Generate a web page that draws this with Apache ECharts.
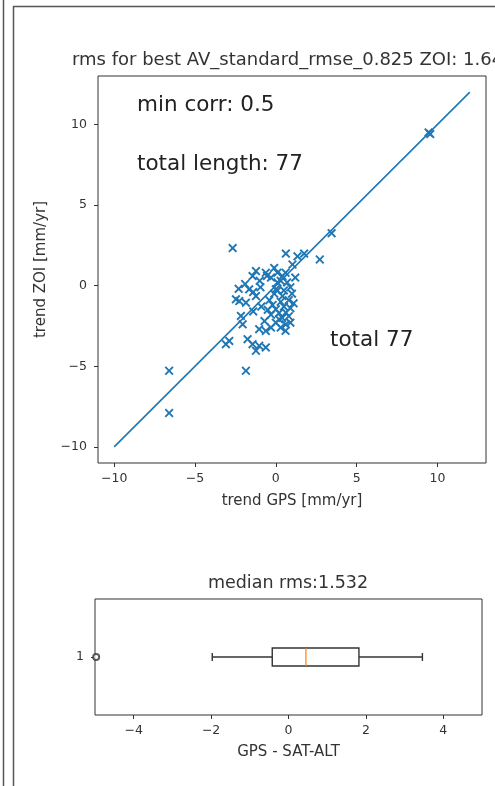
<!DOCTYPE html>
<html>
<head>
<meta charset="utf-8">
<script src="https://cdn.jsdelivr.net/npm/echarts@6/dist/echarts.min.js"></script>
<style>
  html, body { margin: 0; padding: 0; background: #fff; }
  #chart { width: 495px; height: 786px; }
</style>
</head>
<body>
<div id="chart"></div>
<script>
// scatter: trend GPS vs trend ZOI (mm/yr)
const trendPairs = [
  [9.45, 9.5], [9.55, 9.4], [3.45, 3.25], [2.72, 1.62], [-2.67, 2.33],
  [0.62, 1.99], [1.75, 1.99], [1.34, 1.82], [-0.1, 1.1], [-1.23, 0.9],
  [1.03, 1.31], [-0.62, 0.8], [0.1, 0.8], [-1.44, 0.59], [0.41, 0.59],
  [-0.55, 0.6], [-0.95, -0.1], [-1.65, -0.23], [0, -0.23], [-2.47, -0.85],
  [-1.23, -0.65], [0.41, -0.65], [-1.85, -1.06], [-2.26, -0.96], [0, -1.47],
  [0.62, -1.67], [0.2, -2.09], [0.62, -2.4], [-2.16, -1.88], [-2.05, -2.4],
  [-1.03, -2.7], [-0.62, -2.81], [-2.88, -3.43], [-3.09, -3.63], [-1.75, -3.32],
  [-1.44, -3.63], [-1.03, -3.73], [-0.62, -3.83], [-1.23, -4.04], [-1.85, -5.28],
  [-6.6, -5.28], [-6.6, -7.9], [0.3, 0.3], [0.7, 0.2], [0.9, -0.1],
  [0.5, -0.3], [-0.3, 0.5], [-0.1, -0.5], [0.8, -0.9], [0.3, -1.0],
  [-0.4, -0.9], [-0.2, -1.2], [0.5, -1.3], [0.9, -1.4], [0.2, -1.7],
  [-0.3, -1.8], [0.8, -1.9], [0.4, -2.0], [0.0, -2.3], [0.9, -2.3],
  [0.3, -2.6], [-0.5, -1.5], [-0.9, -1.3], [-1.4, -0.4], [-1.0, 0.3],
  [0.6, 0.8], [1.2, 0.5], [1.0, -0.5], [0.1, -0.3], [0.1, 0.2],
  [-1.9, 0.1], [-0.7, -2.2], [1.1, -1.1], [-0.3, -2.6], [-2.3, -0.2],
  [0.6, -2.8], [-1.4, -1.6]
];
const oneToOne = [[-10, -10], [12, 12]];
const trendTicks = [-10, -5, 0, 5, 10];

// box plot: GPS - SAT-ALT
const boxCategories = ['1'];
const boxStats = [-1.97, -0.42, 0.45, 1.82, 3.46]; // low, q1, median, q3, high
const boxFliers = [-4.97];
const boxTicks = [-4, -2, 0, 2, 4];

const titleTop = 'rms for best AV_standard_rmse_0.825 ZOI: 1.64';
const titleBox = 'median rms:1.532';

const FONT = 'DejaVu Sans';
const INK = '#333';
const BLUE = '#1f77b4';
const minus = v => String(v).replace('-', '\u2212');
const xMark = 'path://M1.5,0 L5,3.5 L8.5,0 L10,1.5 L6.5,5 L10,8.5 L8.5,10 L5,6.5 L1.5,10 L0,8.5 L3.5,5 L0,1.5 Z';

function valueAxis(gridIndex, min, max, ticks, name, nameGap, labelMargin) {
  return {
    type: 'value', gridIndex, min, max,
    splitLine: { show: false },
    axisLine: { show: false, onZero: false },
    axisTick: { show: true, length: 4, lineStyle: { color: INK }, customValues: ticks },
    axisLabel: { color: INK, fontFamily: FONT, fontSize: 12.5, margin: labelMargin, formatter: minus, customValues: ticks },
    name, nameLocation: 'middle', nameGap,
    nameTextStyle: { color: INK, fontFamily: FONT, fontSize: 15 }
  };
}

const chart = echarts.init(document.getElementById('chart'), null, { renderer: 'canvas' });

chart.setOption({
  backgroundColor: '#fff',
  animation: false,
  grid: [
    { left: 98, top: 76, width: 388, height: 387, show: true, borderColor: INK, borderWidth: 1, backgroundColor: 'transparent' },
    { left: 95, top: 599, width: 387, height: 116, show: true, borderColor: INK, borderWidth: 1, backgroundColor: 'transparent' }
  ],
  xAxis: [
    valueAxis(0, -11, 13, trendTicks, 'trend GPS [mm/yr]', 31, 9),
    valueAxis(1, -5, 5, boxTicks, 'GPS - SAT-ALT', 30, 9)
  ],
  yAxis: [
    valueAxis(0, -11, 13, trendTicks, 'trend ZOI [mm/yr]', 49, 11),
    {
      type: 'category', gridIndex: 1, data: boxCategories,
      axisLine: { show: false, onZero: false },
      axisTick: { show: true, alignWithLabel: true, length: 4, lineStyle: { color: INK } },
      axisLabel: { color: INK, fontFamily: FONT, fontSize: 12.5, margin: 11 },
      splitLine: { show: false }
    }
  ],
  series: [
    {
      type: 'line', xAxisIndex: 0, yAxisIndex: 0, data: oneToOne,
      symbol: 'none', lineStyle: { color: BLUE, width: 1.6 }, z: 2
    },
    {
      type: 'scatter', xAxisIndex: 0, yAxisIndex: 0, data: trendPairs,
      symbol: xMark, symbolSize: 9, itemStyle: { color: BLUE, opacity: 1 }, z: 3
    },
    {
      type: 'custom', xAxisIndex: 1, yAxisIndex: 1,
      data: [boxStats.concat([0])],
      encode: { x: [0, 1, 2, 3, 4], y: 5 },
      renderItem: function (params, api) {
        const cat = api.value(5);
        const p = [0, 1, 2, 3, 4].map(i => api.coord([api.value(i), cat]));
        const y = p[0][1];
        const hb = 9, hc = 4;
        const ls = { stroke: INK, lineWidth: 1.4 };
        return {
          type: 'group',
          children: [
            { type: 'line', shape: { x1: p[0][0], y1: y, x2: p[1][0], y2: y }, style: ls },
            { type: 'line', shape: { x1: p[3][0], y1: y, x2: p[4][0], y2: y }, style: ls },
            { type: 'line', shape: { x1: p[0][0], y1: y - hc, x2: p[0][0], y2: y + hc }, style: ls },
            { type: 'line', shape: { x1: p[4][0], y1: y - hc, x2: p[4][0], y2: y + hc }, style: ls },
            { type: 'rect', shape: { x: p[1][0], y: y - hb, width: p[3][0] - p[1][0], height: hb * 2 },
              style: { fill: 'none', stroke: INK, lineWidth: 1.4 } },
            { type: 'line', shape: { x1: p[2][0], y1: y - hb, x2: p[2][0], y2: y + hb },
              style: { stroke: '#ff7f0e', lineWidth: 1.2 } }
          ]
        };
      }
    },
    {
      type: 'scatter', xAxisIndex: 1, yAxisIndex: 1,
      data: boxFliers.map(v => [v, 0]),
      symbol: 'emptyCircle', symbolSize: 6,
      itemStyle: { color: INK, borderColor: INK, borderWidth: 1 }
    }
  ],
  graphic: [
    { type: 'line', shape: { x1: 3.5, y1: 0, x2: 3.5, y2: 786 }, style: { stroke: '#555', lineWidth: 1.5 } },
    { type: 'line', shape: { x1: 13.5, y1: 6, x2: 13.5, y2: 786 }, style: { stroke: '#555', lineWidth: 1.5 } },
    { type: 'line', shape: { x1: 13, y1: 6.5, x2: 495, y2: 6.5 }, style: { stroke: '#555', lineWidth: 1.5 } },
    { type: 'text', x: 72, y: 60, style: { text: titleTop, fontFamily: FONT, fontSize: 18, fill: INK, verticalAlign: 'middle' } },
    { type: 'text', x: 288, y: 583, style: { text: titleBox, fontFamily: FONT, fontSize: 17.5, fill: INK, align: 'center', verticalAlign: 'middle' } },
    { type: 'text', x: 137, y: 105, style: { text: 'min corr: 0.5', fontFamily: FONT, fontSize: 21.5, fill: '#222', verticalAlign: 'middle' } },
    { type: 'text', x: 137, y: 164, style: { text: 'total length: 77', fontFamily: FONT, fontSize: 21.5, fill: '#222', verticalAlign: 'middle' } },
    { type: 'text', x: 330, y: 340, style: { text: 'total 77', fontFamily: FONT, fontSize: 21.5, fill: '#222', verticalAlign: 'middle' } }
  ]
});
</script>
</body>
</html>
